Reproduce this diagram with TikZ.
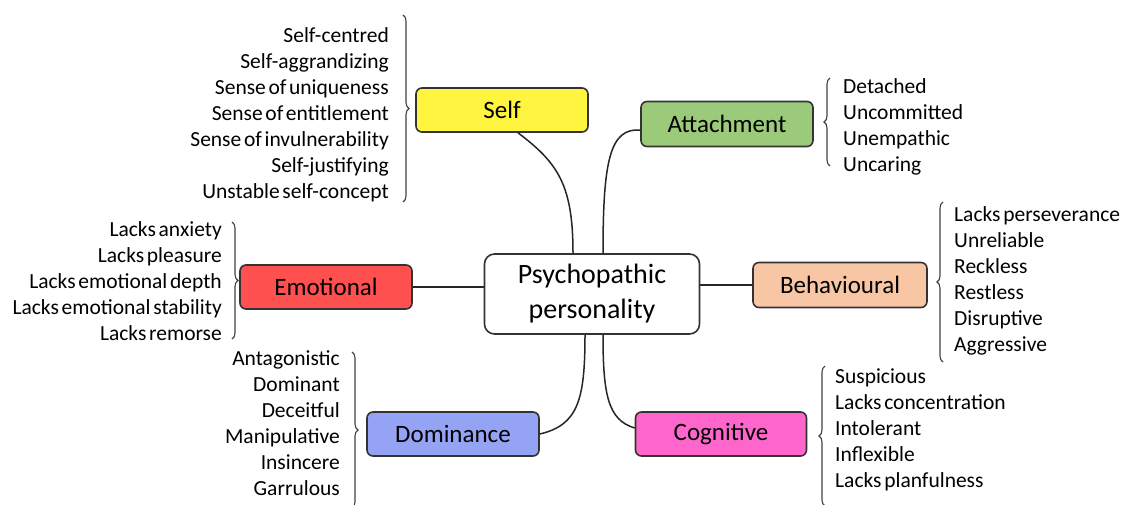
\documentclass[tikz,border=0pt]{standalone}
\usepackage{fontspec}
\setmainfont{Carlito}
\newfontfamily\traitfont{Carlito}[WordSpace=0.55]
\usetikzlibrary{decorations.pathreplacing}

\definecolor{selfyellow}{RGB}{255,245,64}
\definecolor{attachgreen}{RGB}{155,203,122}
\definecolor{emotred}{RGB}{255,80,80}
\definecolor{behavpeach}{RGB}{248,198,165}
\definecolor{domblue}{RGB}{149,163,245}
\definecolor{cogpink}{RGB}{255,102,204}

\begin{document}
\begin{tikzpicture}
[
x=1pt, y=-1pt,
cat/.style={rectangle, rounded corners=6pt, draw=black!80, line width=1.6pt, minimum width=172pt, minimum height=44pt, font=\fontsize{25}{28}\selectfont},
core/.style={rectangle, rounded corners=10pt, draw=black!80, line width=1.6pt, fill=white, minimum width=215pt, minimum height=80pt, align=center, font=\fontsize{28}{35}\selectfont},
traits/.style={inner sep=0pt, font=\traitfont\fontsize{21.5}{26}\selectfont},
link/.style={draw=black!85, line width=1.5pt},
curly/.style={decorate, decoration={brace, amplitude=6pt}, draw=black!75, line width=1.1pt},
]
\useasboundingbox (0,0) rectangle (1125,504);

\node at (592,294) [core] (core) {Psychopathic\\personality};

\node at (502,110) [cat, fill=selfyellow] (self) {Self};
\node at (727,124) [cat, fill=attachgreen, minimum height=45pt] (attach) {Attachment};
\node at (326,287) [cat, fill=emotred] (emot) {Emotional};
\node at (840,285) [cat, fill=behavpeach, minimum width=174pt, minimum height=45pt] (behav) {Behavioural};
\node at (453,434) [cat, fill=domblue] (dom) {Dominance};
\node at (721,434) [cat, fill=cogpink, minimum width=171pt] (cog) {Cognitive};

\node at (389,115) [traits, anchor=east, align=right] (selfl) {Self-centred\\Self-aggrandizing\\Sense of uniqueness\\Sense of entitlement\\Sense of invulnerability\\Self-justifying\\Unstable self-concept};
\node at (843,127) [traits, anchor=west, align=left] (attachl) {Detached\\Uncommitted\\Unempathic\\Uncaring};
\node at (222,281) [traits, anchor=east, align=right] (emotl) {Lacks anxiety\\Lacks pleasure\\Lacks emotional depth\\Lacks emotional stability\\Lacks remorse};
\node at (954,281) [traits, anchor=west, align=left] (behavl) {Lacks perseverance\\Unreliable\\Reckless\\Restless\\Disruptive\\Aggressive};
\node at (340,423) [traits, anchor=east, align=right] (doml) {Antagonistic\\Dominant\\Deceitful\\Manipulative\\Insincere\\Garrulous};
\node at (835,430) [traits, anchor=west, align=left] (cogl) {Suspicious\\Lacks concentration\\Intolerant\\Inflexible\\Lacks planfulness};

% connectors
\draw[link] ([xshift=16pt]self.south) .. controls (558,163) and (573,185) .. ([xshift=-19pt]core.north);
\draw[link] ([yshift=-6pt]attach.west) .. controls (610,128) and (603,160) .. ([xshift=11pt]core.north);
\draw[link] (emot.east) -- (emot.east -| core.west);
\draw[link] (behav.west) -- (behav.west -| core.east);
\draw[link] (dom.east) .. controls (578,425) and (585,400) .. ([xshift=-7pt]core.south);
\draw[link] ([yshift=6pt]cog.west) .. controls (608,420) and (603,395) .. ([xshift=11pt]core.south);

% braces
\draw[curly] (403,15) -- (403,202);
\draw[curly] (830,166) -- (830,78);
\draw[curly] (232,222) -- (232,339);
\draw[curly] (943,362) -- (943,202);
\draw[curly] (352,352) -- (352,508);
\draw[curly] (825,506) -- (825,366);

\end{tikzpicture}
\end{document}
